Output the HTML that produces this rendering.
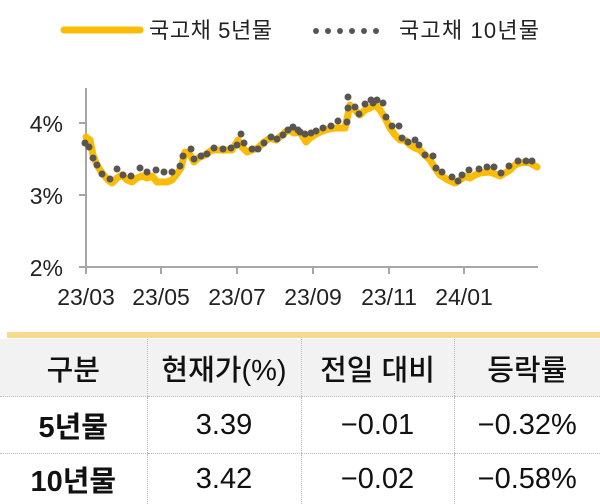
<!DOCTYPE html>
<html><head><meta charset="utf-8"><style>
html,body{margin:0;padding:0;background:#fff;width:600px;height:504px;overflow:hidden;}
body{font-family:"Liberation Sans","Noto Sans CJK KR",sans-serif;position:relative;}
svg{position:absolute;left:0;top:0;}
table{border-collapse:collapse;position:absolute;left:0;top:339px;width:600px;table-layout:fixed;}
td{text-align:center;color:#111;font-size:29px;padding:0;border-left:1px dotted #bbb;border-bottom:1px dotted #bbb;}
td:first-child{border-left:none;}
tr.h td{background:#f2f2f2;height:57px;font-weight:500;}
tr.r1 td{height:56px;}
tr.r2 td{height:50px;border-bottom:none;}
.b{font-weight:bold;}
</style></head><body>
<svg width="600" height="504" viewBox="0 0 600 504">
<line x1="64" y1="30" x2="140" y2="30" stroke="#fbbc05" stroke-width="7" stroke-linecap="round"/>
<text x="149" y="38" font-size="22" fill="#222" font-family="Liberation Sans,Noto Sans CJK KR,sans-serif" textLength="123">국고채 5년물</text>
<g fill="#5a5550">
<circle cx="316" cy="31" r="3"/><circle cx="328" cy="31" r="3"/><circle cx="340" cy="31" r="3"/><circle cx="352" cy="31" r="3"/><circle cx="364" cy="31" r="3"/><circle cx="376" cy="31" r="3"/>
</g>
<text x="399" y="38" font-size="22" fill="#222" font-family="Liberation Sans,Noto Sans CJK KR,sans-serif" textLength="140">국고채 10년물</text>
<g stroke="#a6a6a6" stroke-width="2" fill="none">
<line x1="86" y1="88" x2="86" y2="274"/>
<line x1="79" y1="267" x2="538" y2="267"/>
<line x1="79" y1="123" x2="86" y2="123"/>
<line x1="79" y1="195" x2="86" y2="195"/>
<line x1="161" y1="267" x2="161" y2="274"/><line x1="237" y1="267" x2="237" y2="274"/><line x1="313" y1="267" x2="313" y2="274"/><line x1="389" y1="267" x2="389" y2="274"/><line x1="464" y1="267" x2="464" y2="274"/>
</g>
<g font-size="23" fill="#222" font-family="Liberation Sans,sans-serif">
<text x="63" y="132" text-anchor="end">4%</text>
<text x="63" y="204" text-anchor="end">3%</text>
<text x="63" y="276" text-anchor="end">2%</text>
<g text-anchor="middle">
<text x="86" y="305">23/03</text><text x="161" y="305">23/05</text><text x="237" y="305">23/07</text><text x="313" y="305">23/09</text><text x="389" y="305">23/11</text><text x="464" y="305">24/01</text>
</g></g>
<polyline fill="none" stroke="#fbbc05" stroke-width="7" stroke-linejoin="round" stroke-linecap="round" points="86,137 90,140 93,155 97,165 102,173 108,180 112,183 117,178 122,175 127,180 132,182 137,178 142,176 147,178 152,176 157,182 162,182 167,182 172,180 176,175 181,168 185,152 190,155 194,162 198,158 205,155 212,150 218,150 225,150 232,150 238,140 242,147 247,152 252,150 258,148 264,142 270,138 276,140 282,135 288,130 294,133 300,132 306,142 310,138 318,133 325,130 335,128 345,128 350,105 355,110 360,115 365,110 370,108 375,105 380,110 385,118 390,128 395,135 400,140 405,140 410,145 415,148 420,150 425,155 430,160 435,168 440,175 448,180 455,183 460,180 465,176 470,178 475,175 480,173 490,172 500,176 510,170 515,165 520,163 525,162 530,163 537,167"/>
<g fill="#5a5550">
<circle cx="85" cy="143" r="3.5"/><circle cx="89" cy="147" r="3.5"/><circle cx="93" cy="158" r="3.5"/><circle cx="97" cy="165" r="3.5"/><circle cx="102" cy="174" r="3.5"/><circle cx="110" cy="179" r="3.5"/><circle cx="117" cy="169" r="3.5"/><circle cx="123" cy="175" r="3.5"/><circle cx="131" cy="176" r="3.5"/><circle cx="140" cy="168" r="3.5"/><circle cx="147" cy="172" r="3.5"/><circle cx="156" cy="170" r="3.5"/><circle cx="164" cy="172" r="3.5"/><circle cx="172" cy="172" r="3.5"/><circle cx="180" cy="166" r="3.5"/><circle cx="183" cy="156" r="3.5"/><circle cx="191" cy="149" r="3.5"/><circle cx="194" cy="159" r="3.5"/><circle cx="201" cy="156" r="3.5"/><circle cx="207" cy="154" r="3.5"/><circle cx="214" cy="148" r="3.5"/><circle cx="223" cy="149" r="3.5"/><circle cx="231" cy="148" r="3.5"/><circle cx="237" cy="145" r="3.5"/><circle cx="241" cy="134" r="3.5"/><circle cx="244" cy="143" r="3.5"/><circle cx="252" cy="149" r="3.5"/><circle cx="258" cy="149" r="3.5"/><circle cx="264" cy="143" r="3.5"/><circle cx="271" cy="137" r="3.5"/><circle cx="277" cy="139" r="3.5"/><circle cx="283" cy="135" r="3.5"/><circle cx="288" cy="130" r="3.5"/><circle cx="293" cy="127" r="3.5"/><circle cx="298" cy="130" r="3.5"/>
<circle cx="300" cy="132" r="3.5"/><circle cx="305" cy="134" r="3.5"/><circle cx="311" cy="133" r="3.5"/><circle cx="316" cy="131" r="3.5"/><circle cx="323" cy="128" r="3.5"/><circle cx="331" cy="126" r="3.5"/><circle cx="338" cy="121" r="3.5"/><circle cx="347" cy="122" r="3.5"/><circle cx="348" cy="97" r="3.5"/><circle cx="348" cy="108" r="3.5"/><circle cx="355" cy="107" r="3.5"/><circle cx="359" cy="114" r="3.5"/><circle cx="365" cy="104" r="3.5"/><circle cx="371" cy="100" r="3.5"/><circle cx="373" cy="103" r="3.5"/><circle cx="377" cy="100" r="3.5"/><circle cx="383" cy="103" r="3.5"/><circle cx="386" cy="117" r="3.5"/><circle cx="392" cy="126" r="3.5"/><circle cx="399" cy="126" r="3.5"/><circle cx="402" cy="138" r="3.5"/><circle cx="408" cy="142" r="3.5"/><circle cx="415" cy="140" r="3.5"/><circle cx="419" cy="145" r="3.5"/><circle cx="425" cy="155" r="3.5"/><circle cx="433" cy="156" r="3.5"/><circle cx="436" cy="168" r="3.5"/><circle cx="442" cy="172" r="3.5"/><circle cx="452" cy="177" r="3.5"/><circle cx="458" cy="181" r="3.5"/><circle cx="462" cy="175" r="3.5"/><circle cx="469" cy="170" r="3.5"/><circle cx="479" cy="169" r="3.5"/><circle cx="487" cy="167" r="3.5"/><circle cx="494" cy="167" r="3.5"/><circle cx="501" cy="173" r="3.5"/><circle cx="509" cy="166" r="3.5"/><circle cx="518" cy="161" r="3.5"/><circle cx="526" cy="161" r="3.5"/><circle cx="532" cy="161" r="3.5"/>
</g>
<rect x="7" y="332" width="593" height="6" fill="#f7d98f"/>
</svg>
<table>
<colgroup><col style="width:147px"><col style="width:154px"><col style="width:153px"><col style="width:146px"></colgroup>
<tr class="h"><td>구분</td><td>현재가(%)</td><td>전일 대비</td><td>등락률</td></tr>
<tr class="r1"><td class="b">5년물</td><td>3.39</td><td>−0.01</td><td>−0.32%</td></tr>
<tr class="r2"><td class="b">10년물</td><td>3.42</td><td>−0.02</td><td>−0.58%</td></tr>
</table>
</body></html>
